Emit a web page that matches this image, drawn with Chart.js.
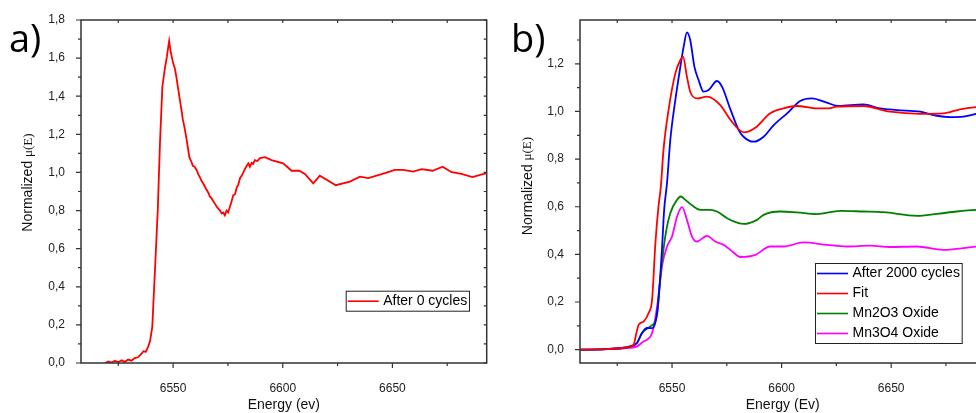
<!DOCTYPE html>
<html>
<head>
<meta charset="utf-8">
<script src="https://cdn.jsdelivr.net/npm/chart.js@4.4.1/dist/chart.umd.min.js"></script>
<style>
  html, body { margin: 0; padding: 0; background: #fff; overflow: hidden; }
  #wrap { position: relative; width: 976px; height: 413px; overflow: hidden; }
  canvas { position: absolute; top: 0; }
  #left { left: 0; }
  #right { left: 490px; }
</style>
</head>
<body>
<div id="wrap">
  <canvas id="left" width="500" height="413"></canvas>
  <canvas id="right" width="520" height="413"></canvas>
</div>
<script>
// panel a) : after 0 cycles
const energy0 = [
  6519, 6520.5, 6522, 6523.5, 6525, 6526.5, 6528, 6529.5, 6531, 6532.5,
  6534, 6535.5, 6536.5, 6537.5, 6538.5, 6539.5, 6540.5,
  6541.7, 6543.0, 6544.0, 6545.1, 6546.3, 6547.2, 6547.8, 6548.2, 6548.8, 6549.5,
  6550.1, 6550.8, 6551.5, 6552.3, 6553.1, 6553.8, 6554.4, 6555.3, 6556.2, 6557.4,
  6558.2, 6559.0, 6559.8, 6560.7, 6561.5, 6562.2, 6563.0, 6563.7, 6564.5, 6565.2,
  6566.0, 6566.8, 6567.5, 6568.3, 6569.1, 6569.9, 6570.6, 6571.4, 6572.2, 6572.9,
  6573.6, 6574.4, 6575.1, 6575.9, 6576.6, 6577.4, 6578.2, 6579.0, 6579.7, 6580.5,
  6581.4, 6582.4, 6583.3, 6584.3, 6585.0, 6585.8, 6586.5, 6587.3, 6588.4, 6589.6,
  6591.9, 6594.9, 6600.2, 6604.0, 6607.5, 6610.1, 6613.9, 6616.9, 6624.2, 6630.6,
  6635.2, 6639.0, 6646.6, 6651.1, 6654.9, 6659.5, 6663.3, 6668.3, 6672.9, 6677.0,
  6681.5, 6686.5, 6692.9
];
const mu0 = [
  0.000, 0.008, 0.002, 0.012, 0.004, 0.014, 0.006, 0.018, 0.012, 0.026,
  0.030, 0.048, 0.062, 0.058, 0.082, 0.115, 0.190,
  0.48, 0.80, 1.15, 1.45, 1.55, 1.61, 1.66, 1.69, 1.64, 1.60,
  1.57, 1.545, 1.50, 1.44, 1.38, 1.33, 1.28, 1.23, 1.17, 1.08,
  1.06, 1.035, 1.03, 1.013, 0.99, 0.975, 0.955, 0.943, 0.925, 0.91,
  0.895, 0.873, 0.865, 0.85, 0.835, 0.82, 0.81, 0.80, 0.785, 0.79,
  0.775, 0.80, 0.79, 0.82, 0.845, 0.88, 0.885, 0.92, 0.935, 0.97,
  0.985, 1.01, 1.03, 1.048, 1.03, 1.05, 1.045, 1.065, 1.06, 1.075,
  1.08, 1.065, 1.048, 1.009, 1.009, 0.992, 0.943, 0.983, 0.933, 0.952,
  0.978, 0.97, 0.996, 1.013, 1.013, 1.004, 1.017, 1.009, 1.03, 1.001,
  0.992, 0.976, 0.996
];

// panel b) : after 2000 cycles and linear combination fit
const energyCycled = [6508.2, 6520, 6528, 6531, 6534, 6536.3, 6538.6, 6540.9, 6542.7, 6543.8,
  6545.4, 6546.4, 6547.7, 6549.2, 6551.5, 6553.8, 6555.3, 6556.8, 6558.3, 6560.2,
  6562.1, 6564.4, 6566.7, 6570.5, 6572.8, 6576.6, 6580.4, 6582.5, 6587.2, 6591.8,
  6596.4, 6602.5, 6608.5, 6613.8, 6620.6, 6626.0, 6637.3, 6644.9, 6652.6, 6663.2,
  6670.8, 6676.9, 6682.9, 6688.7, 6693];
const muCycled = [0, 0.002, 0.008, 0.014, 0.028, 0.07, 0.091, 0.09, 0.126, 0.21,
  0.42, 0.587, 0.699, 0.88, 1.048, 1.188, 1.272, 1.332, 1.30, 1.188,
  1.132, 1.083, 1.09, 1.128, 1.104, 1.01, 0.922, 0.895, 0.873, 0.894,
  0.943, 0.992, 1.044, 1.055, 1.037, 1.023, 1.03, 1.013, 1.006, 0.999,
  0.982, 0.976, 0.978, 0.99, 0.997];

const energyFit = [6508.2, 6520, 6528, 6531, 6532.5, 6533.5, 6534.8, 6537.1, 6539.3, 6540.9,
  6542.4, 6543.8, 6544.9, 6546.1, 6548.4, 6551.5, 6553.8, 6555.0, 6556.8, 6558.3,
  6561.4, 6565.9, 6572.0, 6576.6, 6580.4, 6582.7, 6588.0, 6594.8, 6600.9, 6607.0,
  6616.1, 6620.6, 6625.2, 6637.3, 6649.5, 6663.2, 6673.8, 6681.4, 6688.7, 6693];
const muFit = [0, 0.002, 0.008, 0.014, 0.021, 0.06, 0.105, 0.119, 0.154, 0.21,
  0.447, 0.60, 0.685, 0.839, 1.006, 1.16, 1.216, 1.23, 1.146, 1.083,
  1.055, 1.062, 1.027, 0.965, 0.925, 0.912, 0.932, 0.992, 1.013, 1.023,
  1.013, 1.013, 1.02, 1.023, 0.999, 0.99, 0.992, 1.009, 1.018, 1.02];

const energyMn2O3 = [6508.2, 6520, 6528, 6531, 6534, 6536.3, 6540.1, 6543.2, 6544.6, 6546.9,
  6549.2, 6552.3, 6554.0, 6556.1, 6558.3, 6562.9, 6567.5, 6570.5, 6575.1, 6580.4,
  6582.7, 6588.8, 6591.8, 6599.4, 6607.0, 6616.1, 6626.7, 6637.3, 6646.4, 6661.7,
  6670.8, 6679.9, 6688.7, 6693];
const muMn2O3 = [0, 0.002, 0.008, 0.014, 0.028, 0.07, 0.098, 0.147, 0.294, 0.475,
  0.573, 0.629, 0.643, 0.629, 0.612, 0.587, 0.587, 0.58, 0.552, 0.531,
  0.528, 0.545, 0.566, 0.58, 0.576, 0.569, 0.583, 0.58, 0.577, 0.562,
  0.57, 0.58, 0.587, 0.588];

const energyMn3O4 = [6508.2, 6520, 6528, 6534, 6537.1, 6538.6, 6540.9, 6543.2, 6545.4, 6547.7,
  6550.0, 6552.3, 6554.6, 6556.8, 6559.1, 6561.4, 6565.9, 6569.7, 6573.5, 6576.6,
  6580.4, 6581.1, 6588.0, 6594.8, 6600.9, 6610.0, 6620.6, 6629.8, 6640.4, 6649.5,
  6661.7, 6673.8, 6682.9, 6688.7, 6693];
const muMn3O4 = [0, 0.002, 0.006, 0.014, 0.035, 0.042, 0.07, 0.182, 0.349, 0.433,
  0.475, 0.559, 0.598, 0.545, 0.475, 0.454, 0.478, 0.454, 0.44, 0.419,
  0.391, 0.389, 0.398, 0.433, 0.433, 0.45, 0.44, 0.433, 0.437, 0.431,
  0.433, 0.419, 0.426, 0.433, 0.435];

const xTicks = { min: 6508, max: 6693, step: 50, minor: 25 };

const sans = '"Liberation Sans", Arial, sans-serif';
const pts = (xs, ys) => xs.map((x, i) => ({ x: x, y: ys[i] }));
const comma = (v) => v.toFixed(1).replace(".", ",");

// box, mirrored ticks, axis titles, panel tag and legend
const framePlugin = {
  id: "frame",
  afterDraw(chart, args, o) {
    const { ctx, chartArea: a } = chart;
    const xs = chart.scales.x, ys = chart.scales.y;
    ctx.save();
    ctx.strokeStyle = "#333";
    ctx.lineWidth = 1.5;
    ctx.strokeRect(a.left, a.top, a.right - a.left, a.bottom - a.top);

    ctx.lineWidth = 1.2;
    ctx.beginPath();
    for (let v = Math.ceil(xs.min / xTicks.minor) * xTicks.minor; v <= xs.max; v += xTicks.minor) {
      const px = xs.getPixelForValue(v);
      const len = v % xTicks.step === 0 ? 5 : 3;
      ctx.moveTo(px, a.bottom); ctx.lineTo(px, a.bottom + len);
      ctx.moveTo(px, a.top); ctx.lineTo(px, a.top + 3);
    }
    for (let i = Math.ceil(ys.min * 10); i <= Math.floor(ys.max * 10 + 1e-6); i++) {
      const py = ys.getPixelForValue(i / 10);
      const len = i % 2 === 0 ? 5 : 3;
      ctx.moveTo(a.left, py); ctx.lineTo(a.left - len, py);
      ctx.moveTo(a.right, py); ctx.lineTo(a.right - 3, py);
    }
    ctx.stroke();

    // y title: sans "Normalized" + serif mu(E)
    ctx.fillStyle = "#111";
    ctx.save();
    ctx.translate(o.yTitle[0], o.yTitle[1]);
    ctx.rotate(-Math.PI / 2);
    ctx.textBaseline = "middle";
    ctx.font = "14px " + sans;
    const w1 = ctx.measureText("Normalized ").width;
    ctx.font = '13px "Liberation Serif", "DejaVu Serif", serif';
    const w2 = ctx.measureText("\u03bc(E)").width;
    ctx.textAlign = "left";
    ctx.font = "14px " + sans;
    ctx.fillText("Normalized ", -(w1 + w2) / 2, 0);
    ctx.font = '13px "Liberation Serif", "DejaVu Serif", serif';
    ctx.fillText("\u03bc(E)", -(w1 + w2) / 2 + w1, 0);
    ctx.restore();

    // x title
    ctx.font = "14px " + sans;
    ctx.textAlign = "center";
    ctx.textBaseline = "alphabetic";
    ctx.fillText(o.xTitle, (a.left + a.right) / 2, 409);

    // panel tag
    ctx.fillStyle = "#000";
    ctx.font = '38px "Open Sans", sans-serif';
    ctx.textAlign = "left";
    ctx.fillText(o.tag[0], o.tag[1], o.tag[2]);

    // legend
    const L = o.legend;
    const rows = chart.data.datasets.length;
    ctx.fillStyle = "#fff";
    ctx.fillRect(L.x, L.y, L.w, rows * 20);
    ctx.strokeStyle = "#222";
    ctx.lineWidth = 1;
    ctx.strokeRect(L.x + 0.5, L.y + 0.5, L.w, rows * 20);
    ctx.font = "14px " + sans;
    ctx.textBaseline = "middle";
    chart.data.datasets.forEach((ds, i) => {
      const cy = L.y + 10 + i * 20 + 0.5;
      ctx.strokeStyle = ds.borderColor;
      ctx.lineWidth = 1.6;
      ctx.beginPath();
      ctx.moveTo(L.x + 2, cy); ctx.lineTo(L.x + 33, cy);
      ctx.stroke();
      ctx.fillStyle = "#000";
      ctx.fillText(ds.label, L.x + 37.5, cy);
    });
    ctx.restore();
  }
};

function makeScales(yMin, yMax, yWidth) {
  return {
    x: {
      type: "linear",
      min: xTicks.min,
      max: xTicks.max,
      ticks: {
        stepSize: xTicks.step,
        includeBounds: false,
        padding: 10,
        color: "#222",
        font: { family: sans, size: 12 },
        callback: (v) => String(v),
      },
      grid: { display: false },
      border: { display: false },
      afterFit: (s) => { s.height = 50; },
    },
    y: {
      type: "linear",
      min: yMin,
      max: yMax,
      ticks: {
        stepSize: 0.2,
        includeBounds: false,
        padding: 8,
        color: "#222",
        font: { family: sans, size: 12 },
        callback: (v) => comma(v),
      },
      grid: { display: false },
      border: { display: false },
      afterFit: (s) => { s.width = yWidth; },
    },
  };
}

const line = (label, data, color, tension, order) => ({
  label: label,
  data: data,
  borderColor: color,
  backgroundColor: color,
  borderWidth: 1.8,
  pointRadius: 0,
  fill: false,
  tension: tension,
  cubicInterpolationMode: tension ? "monotone" : "default",
  order: order,
});

new Chart(document.getElementById("left"), {
  type: "line",
  data: {
    datasets: [line("After 0 cycles", pts(energy0, mu0), "#ff0000", 0, 0)],
  },
  options: {
    responsive: false,
    animation: false,
    devicePixelRatio: 1,
    layout: { padding: { top: 20, right: 13.3, left: 0, bottom: 0 } },
    scales: makeScales(0, 1.8, 81),
    plugins: {
      legend: { display: false },
      tooltip: { enabled: false },
      frame: {
        yTitle: [28.5, 182.5],
        xTitle: "Energy (ev)",
        tag: ["a)", 9, 52],
        legend: { x: 345.7, y: 290.7, w: 123.3 },
      },
    },
  },
  plugins: [framePlugin],
});

new Chart(document.getElementById("right"), {
  type: "line",
  data: {
    datasets: [
      line("After 2000 cycles", pts(energyCycled, muCycled), "#0000ff", 0.4, 1),
      line("Fit", pts(energyFit, muFit), "#ff0000", 0.4, 0),
      line("Mn2O3 Oxide", pts(energyMn2O3, muMn2O3), "#008000", 0.4, 2),
      line("Mn3O4 Oxide", pts(energyMn3O4, muMn3O4), "#ff00ff", 0.4, 3),
    ],
  },
  options: {
    responsive: false,
    animation: false,
    devicePixelRatio: 1,
    layout: { padding: { top: 20, right: 24.6, left: 0, bottom: 0 } },
    scales: makeScales(-0.056, 1.384, 90),
    plugins: {
      legend: { display: false },
      tooltip: { enabled: false },
      frame: {
        yTitle: [38, 186],
        xTitle: "Energy (Ev)",
        tag: ["b)", 21, 52],
        legend: { x: 325, y: 263, w: 146.7 },
      },
    },
  },
  plugins: [framePlugin],
});
</script>
</body>
</html>
